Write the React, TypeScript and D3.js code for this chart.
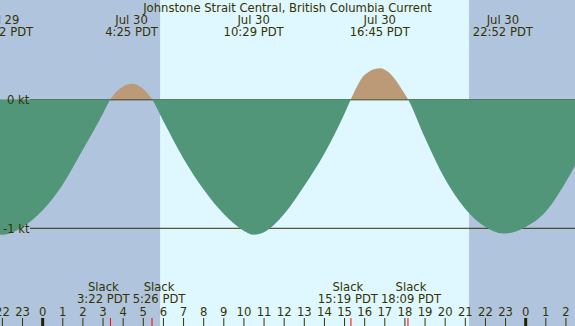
import React from "react";
import * as d3 from "d3";

// hours relative to Jul 30 00:00 PDT
const sampleHours = [-3, -1, 0, 1, 2, 3, 4, 5, 6, 7, 8, 9, 10, 11, 12, 13, 14, 15, 16, 17, 18, 19, 20, 21, 22, 23, 24, 25, 26, 27];
const sampleKnots = [-1.0, -0.99, -0.86, -0.66, -0.39, -0.11, 0.1, 0.08, -0.17, -0.46, -0.7, -0.89, -1.02, -1.03, -0.89, -0.67, -0.42, -0.11, 0.19, 0.23, 0.04, -0.3, -0.62, -0.85, -0.99, -1.04, -0.99, -0.87, -0.64, -0.35];

const maxDates = ["Jul 29", "Jul 30", "Jul 30", "Jul 30", "Jul 30"];
const maxTimes = ["22:02", "4:25", "10:29", "16:45", "22:52"];
const maxKnots = [-1.05, 0.12, -1.05, 0.24, -1.04];

const slackTimes = ["3:22", "5:26", "15:19", "18:09"];

const sunrise = "5:50";
const sunset = "21:11";

const title = "Johnstone Strait Central, British Columbia Current";
const W = 575;
const H = 326;
const FONT = "DejaVu Sans, Verdana, sans-serif";
const FS = 11.6;
const ink = "#333300";

const toHour = (t, date = "Jul 30") => {
  const [h, m] = t.split(":").map(Number);
  return h + m / 60 - (date === "Jul 29" ? 24 : 0);
};

let ctx = null;
const textWidth = s => {
  if (!ctx) ctx = document.createElement("canvas").getContext("2d");
  ctx.font = FS + "px " + FONT;
  return ctx.measureText(s).width;
};

export default function App() {
  const x = d3.scaleLinear().domain([-2.12, 26.45]).range([0, W]);
  const y = d3.scaleLinear().domain([-1, 0]).range([228.3, 99.3]);

  const pts = sampleHours.map((h, i) => [h, sampleKnots[i]]);
  maxTimes.forEach((t, i) => pts.push([toHour(t, maxDates[i]), maxKnots[i]]));
  slackTimes.forEach(t => pts.push([toHour(t), 0]));
  pts.sort((a, b) => a[0] - b[0]);

  const area = d3
    .area()
    .x(d => x(d[0]))
    .y0(y(0))
    .y1(d => y(d[1]))
    .curve(d3.curveMonotoneX);

  const hours = d3.range(-2, 27);

  // slack labels, pushed apart when they overlap
  const slack = slackTimes.map(t => {
    const cx = x(toHour(t));
    const w = textWidth(t + " PDT");
    return { t, tick: cx, cx, w };
  });
  for (let i = 0; i < slack.length - 1; i++) {
    const a = slack[i], b = slack[i + 1];
    const need = (a.w + b.w) / 2 + 3;
    const gap = b.cx - a.cx;
    if (gap < need) {
      a.cx -= (need - gap) / 2;
      b.cx += (need - gap) / 2;
    }
  }

  return (
    <svg width={W} height={H} style={{ position: "fixed", left: 0, top: 0, display: "block" }} fontFamily={FONT} fontSize={FS}>
      <defs>
        <clipPath id="above">
          <rect x={0} y={0} width={W} height={y(0)} />
        </clipPath>
        <clipPath id="below">
          <rect x={0} y={y(0)} width={W} height={H} />
        </clipPath>
      </defs>
      <rect x={0} y={0} width={W} height={H} fill="#dff7ff" />
      <rect x={0} y={0} width={x(toHour(sunrise))} height={H} fill="#b0c4de" />
      <rect x={x(toHour(sunset))} y={0} width={W - x(toHour(sunset))} height={H} fill="#b0c4de" />

      <path d={area(pts)} fill="#bc9a78" clipPath="url(#above)" />
      <line x1={30} x2={W} y1={y(0) + 0.5} y2={y(0) + 0.5} stroke={ink} strokeWidth={1} />
      <line x1={30} x2={W} y1={y(-1)} y2={y(-1)} stroke={ink} strokeWidth={1} />
      <path d={area(pts)} fill="#52967a" clipPath="url(#below)" />

      <text x={7} y={y(0) + 4.5} fill={ink}>0 kt</text>
      <text x={3} y={y(-1) + 4.5} fill={ink}>-1 kt</text>

      <text x={W / 2} y={12} textAnchor="middle" fill={ink}>{title}</text>
      {maxTimes.map((t, i) => {
        const cx = x(toHour(t, maxDates[i]));
        return (
          <g key={t} fill={ink} textAnchor="middle">
            <text x={cx} y={24}>{maxDates[i]}</text>
            <text x={cx} y={36}>{t + " PDT"}</text>
          </g>
        );
      })}

      {slack.map(s => (
        <g key={s.t} fill={ink} textAnchor="middle">
          <text x={s.cx} y={291}>Slack</text>
          <text x={s.cx} y={303}>{s.t + " PDT"}</text>
        </g>
      ))}

      {hours.map(h => (
        <g key={h}>
          <text x={x(h)} y={316} textAnchor="middle" fill={ink}>{((h % 24) + 24) % 24}</text>
          <line
            x1={x(h)}
            x2={x(h)}
            y1={318}
            y2={H}
            stroke={h % 24 === 0 ? "#222200" : ink}
            strokeWidth={h % 24 === 0 ? 3 : 1}
          />
        </g>
      ))}
      {slack.map(s => (
        <line key={"r" + s.t} x1={s.tick} x2={s.tick} y1={318} y2={H} stroke="red" strokeWidth={1} />
      ))}
    </svg>
  );
}
